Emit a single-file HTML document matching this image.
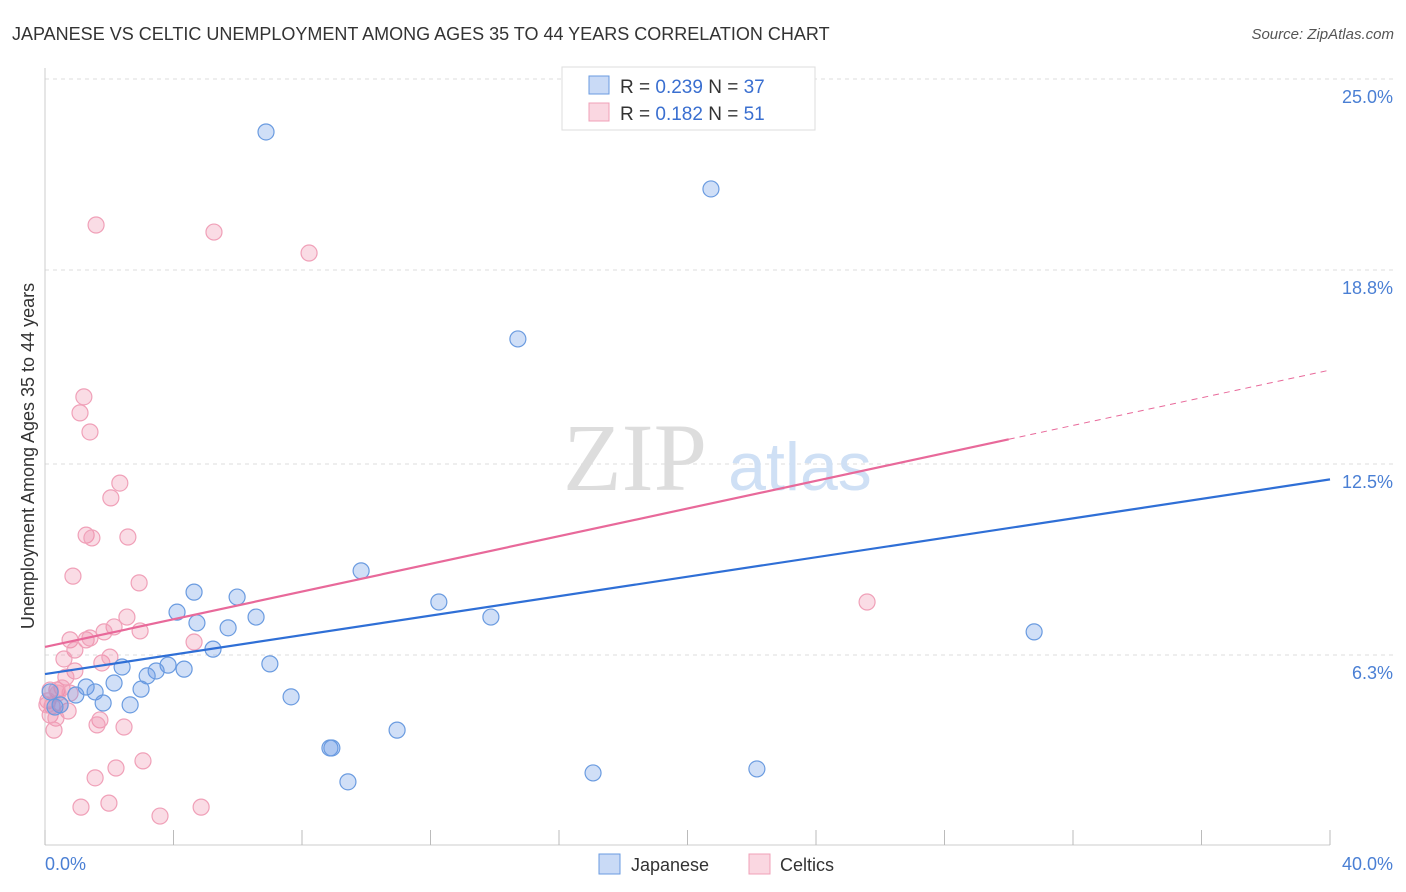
<!DOCTYPE html>
<html><head><meta charset="utf-8">
<style>
body{margin:0;background:#fff;font-family:"Liberation Sans",sans-serif;}
svg{display:block}
</style></head>
<body>
<svg id="chart" width="1406" height="892">
<text x="12" y="40" font-size="18" fill="#333">JAPANESE VS CELTIC UNEMPLOYMENT AMONG AGES 35 TO 44 YEARS CORRELATION CHART</text>
<text x="1394" y="39" font-size="15" fill="#555" text-anchor="end" font-style="italic">Source: ZipAtlas.com</text>
<g id="grid"></g>
<g>
<text x="635" y="490" font-size="96" font-family="Liberation Serif,serif" fill="#ddd" text-anchor="middle">ZIP</text>
<text x="800" y="490" font-size="68" fill="#cfe0f5" text-anchor="middle">atlas</text>
</g>
<line x1="45" y1="68" x2="45" y2="845" stroke="#ccc"/>
<line x1="45" y1="845" x2="1330" y2="845" stroke="#ccc"/>
<g id="xticks"></g>
<g id="ylabels"></g>
<text x="45" y="870" font-size="18" fill="#4a7fd4">0.0%</text>
<text x="1393" y="870" font-size="18" fill="#4a7fd4" text-anchor="end">40.0%</text>
<text transform="translate(34,456) rotate(-90)" font-size="18" fill="#333" text-anchor="middle">Unemployment Among Ages 35 to 44 years</text>
<g id="pts"></g>
<g id="lines"></g>
<g>
<rect x="562" y="67" width="253" height="63" fill="#fff" stroke="#ddd"/>
<rect x="589" y="76" width="20" height="18" fill="rgba(100,150,230,0.35)" stroke="#6a9be0"/>
<rect x="589" y="103" width="20" height="18" fill="rgba(240,140,170,0.35)" stroke="#f0a0b8"/>
<text x="620" y="93" font-size="19" fill="#333">R = <tspan fill="#3a6fd0">0.239</tspan>   N = <tspan fill="#3a6fd0">37</tspan></text>
<text x="620" y="120" font-size="19" fill="#333">R =  <tspan fill="#3a6fd0">0.182</tspan>   N =  <tspan fill="#3a6fd0">51</tspan></text>
</g>
<g>
<rect x="599" y="854" width="21" height="20" fill="rgba(100,150,230,0.35)" stroke="#6a9be0"/>
<text x="631" y="871" font-size="18" fill="#333">Japanese</text>
<rect x="749" y="854" width="21" height="20" fill="rgba(240,140,170,0.35)" stroke="#f0a0b8"/>
<text x="780" y="871" font-size="18" fill="#333">Celtics</text>
</g>
</svg>
<script>
const yTicks=[25.0,18.8,12.5,6.3];
const yTickLabels=["25.0%","18.8%","12.5%","6.3%"];
const xTicks=[0,4,8,12,16,20,24,28,32,36,40];
const japaneseX=[6.88,20.73,14.72,9.84,4.64,5.98,4.11,6.57,4.73,5.70,12.26,13.88,30.79,5.23,2.40,7.00,3.83,4.33,3.46,3.18,2.15,2.99,1.28,1.56,0.96,0.16,7.66,1.81,2.65,0.47,0.31,10.96,8.87,8.93,9.43,17.06,22.16];
const japaneseY=[23.28,21.43,16.56,9.03,8.34,8.18,7.69,7.53,7.34,7.18,8.02,7.53,7.05,6.49,5.91,6.01,5.97,5.84,5.78,5.62,5.39,5.19,5.26,5.10,5.00,5.10,4.94,4.74,4.68,4.68,4.61,3.86,3.28,3.28,2.18,2.47,2.60];
const celticsX=[1.59,5.26,8.22,1.21,1.09,1.40,2.33,2.05,1.28,1.46,2.58,0.87,2.93,2.55,2.15,1.84,2.96,1.28,1.40,0.78,4.64,0.93,0.59,1.77,2.02,0.93,0.65,0.37,0.53,0.78,0.16,0.09,0.22,0.72,0.16,0.34,0.28,1.71,1.62,2.46,3.05,2.21,1.56,1.12,1.99,3.58,4.86,25.59,0.47,0.06,0.40];
const celticsY=[20.26,20.03,19.35,14.68,14.16,13.54,11.88,11.40,10.19,10.10,10.13,8.86,8.64,7.53,7.21,7.05,7.08,6.79,6.85,6.79,6.72,6.46,6.17,6.04,6.23,5.78,5.58,5.16,5.23,5.06,5.16,4.81,4.64,4.48,4.35,4.25,3.86,4.19,4.03,3.96,2.86,2.63,2.31,1.36,1.49,1.07,1.36,8.02,4.68,4.68,5.06];
const japaneseTrend=[5.68,12.0];
const celticsTrend=[6.56,15.55];
const celticsSolidEnd=30.0;
const NS="http://www.w3.org/2000/svg";
const sx=v=>45+v*32.125, sy=v=>849-v*30.8;
function mk(t,a,p){const e=document.createElementNS(NS,t);for(const k in a)e.setAttribute(k,a[k]);p.appendChild(e);return e;}
const grid=document.getElementById('grid'),yl=document.getElementById('ylabels');
yTicks.forEach((v,i)=>{
 const l=mk('line',{x1:45,x2:1393,y1:sy(v),y2:sy(v),stroke:'#ddd','stroke-dasharray':'4,4'},grid);
 
 
 const t=mk('text',{x:1393,y:sy(v)+24,'font-size':18,fill:'#4a7fd4','text-anchor':'end'},yl);
 t.textContent=yTickLabels[i];
 
 
});
const xt=document.getElementById('xticks');
xTicks.forEach(v=>{const l=mk('line',{x1:sx(v),x2:sx(v),y1:830,y2:845,stroke:'#bbb'},xt);
 
 });
const pts=document.getElementById('pts');
celticsX.forEach((x,i)=>{const c=mk('circle',{cx:sx(x),cy:sy(celticsY[i]),r:8,fill:'rgba(240,140,170,0.3)',stroke:'#f0a0b8','stroke-width':1.2},pts);
 
 });
japaneseX.forEach((x,i)=>{const c=mk('circle',{cx:sx(x),cy:sy(japaneseY[i]),r:8,fill:'rgba(100,150,230,0.3)',stroke:'#6a9be0','stroke-width':1.2},pts);
 
 });
const ln=document.getElementById('lines');
const b=mk('line',{x1:sx(0),y1:sy(japaneseTrend[0]),x2:sx(40),y2:sy(japaneseTrend[1]),stroke:'#2f6fd6','stroke-width':2.2},ln);


const pAt=x=>celticsTrend[0]+(celticsTrend[1]-celticsTrend[0])*x/40;
const p=mk('line',{x1:sx(0),y1:sy(pAt(0)),x2:sx(celticsSolidEnd),y2:sy(pAt(celticsSolidEnd)),stroke:'#e8699a','stroke-width':2.2},ln);


const pd=mk('line',{x1:sx(celticsSolidEnd),y1:sy(pAt(celticsSolidEnd)),x2:sx(40),y2:sy(pAt(40)),stroke:'#e8699a','stroke-width':1,'stroke-dasharray':'6,5'},ln);


</script>
</body></html>
